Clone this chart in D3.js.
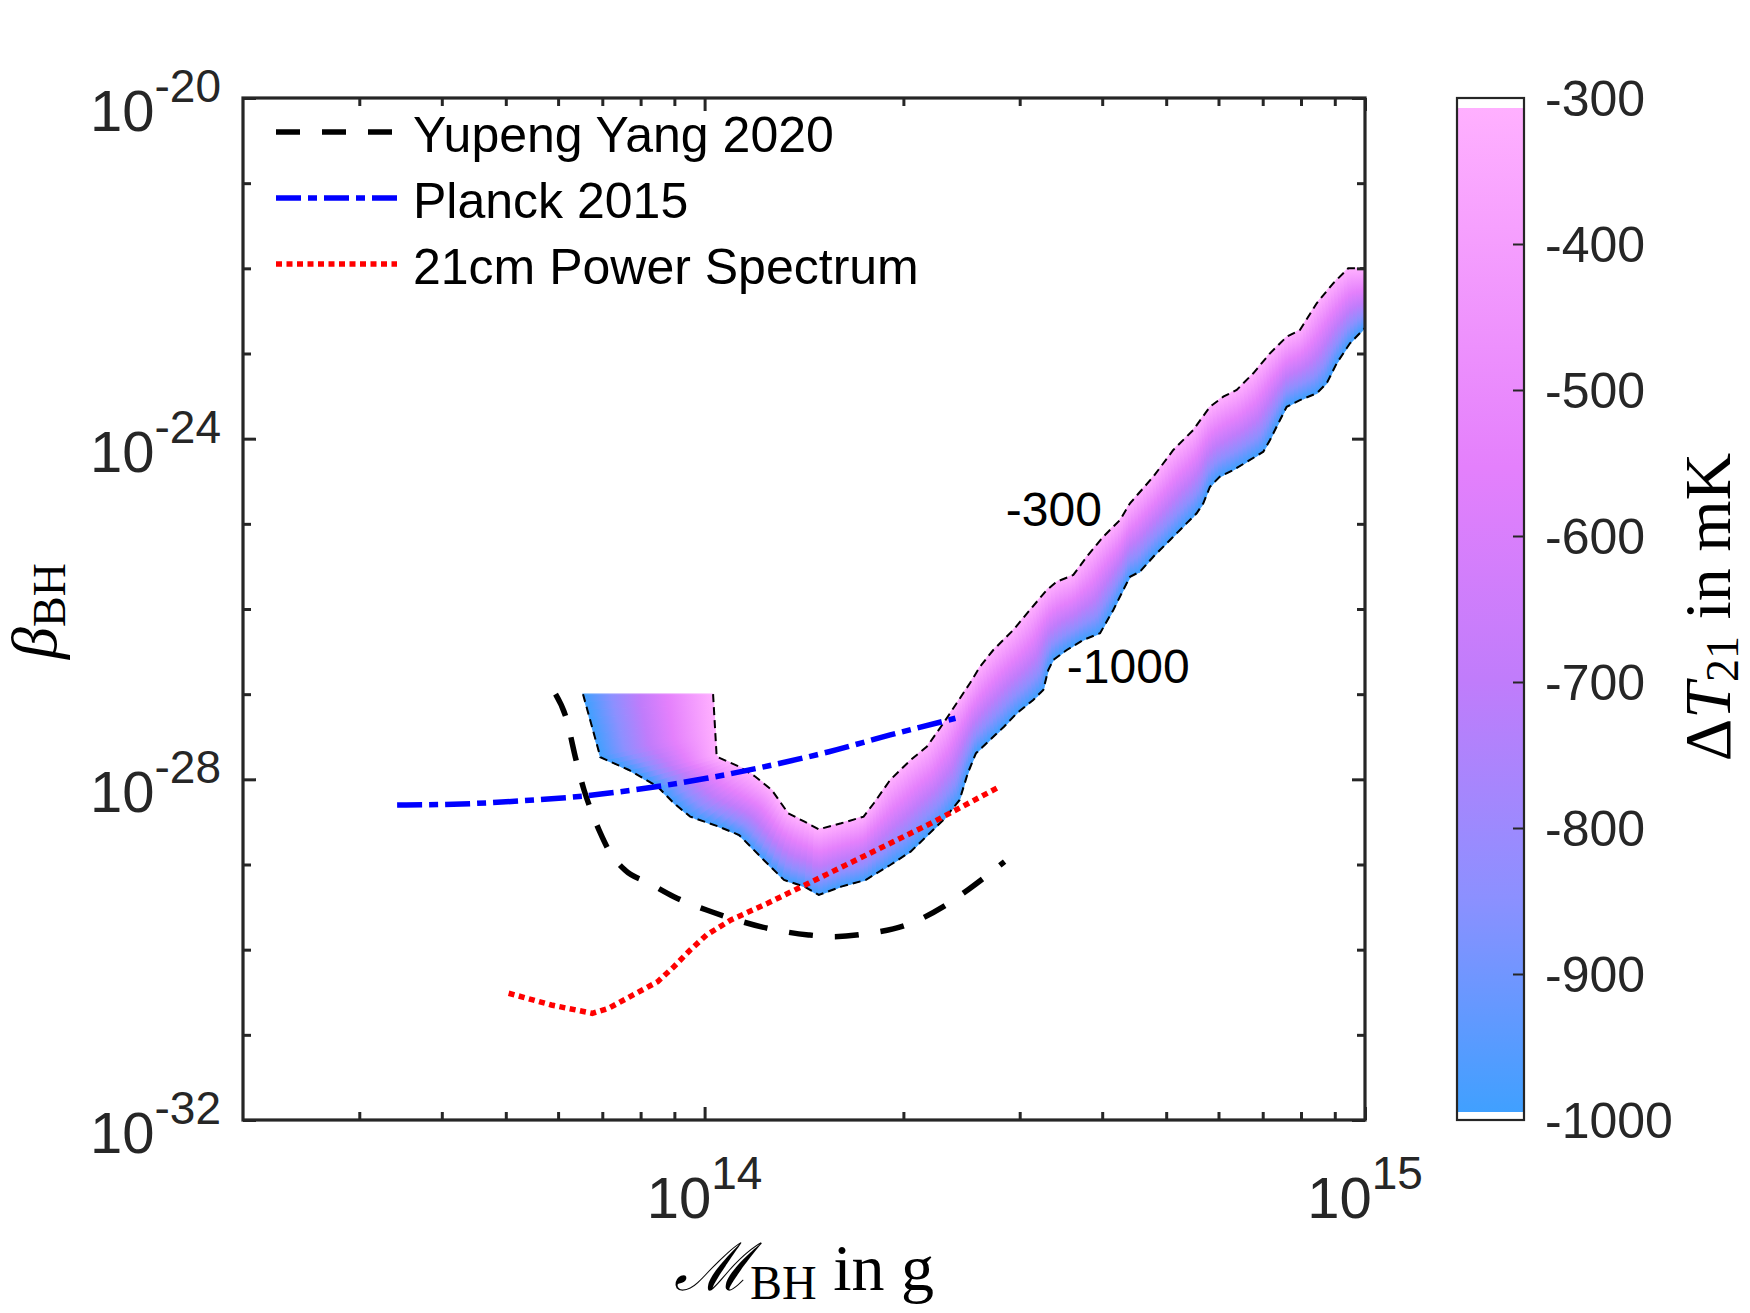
<!DOCTYPE html>
<html>
<head>
<meta charset="utf-8">
<script src="https://cdn.jsdelivr.net/npm/d3@7"></script>
<style>
  body { margin: 0; background: #fff; }
</style>
</head>
<body>
<div id="chart"></div>
<script>
// ---- data ----
// Delta T21 = -300 mK contour (inner edge of the band)
const innerMass = [1.03e14, 1.043e14, 1.128e14, 1.194e14, 1.264e14, 1.338e14, 1.417e14, 1.489e14, 1.610e14, 1.741e14,
  1.804e14, 1.910e14, 2.051e14, 2.171e14, 2.299e14, 2.408e14, 2.522e14, 2.612e14, 2.736e14, 2.934e14,
  3.109e14, 3.296e14, 3.413e14, 3.617e14, 3.790e14, 4.015e14, 4.256e14, 4.407e14, 4.780e14, 5.125e14,
  5.495e14, 5.824e14, 6.101e14, 6.393e14, 6.774e14, 7.180e14, 7.610e14, 7.97e14, 8.45e14, 8.95e14,
  9.43e14, 1e15];
const innerBeta = [1e-27, 1.845e-28, 1.409e-28, 1.074e-28, 7.5e-29, 4.0e-29, 3.18e-29, 2.59e-29, 3.05e-29, 3.65e-29,
  5.24e-29, 9.84e-29, 1.687e-28, 2.42e-28, 4.55e-28, 7.82e-28, 1.343e-27, 2.1e-27, 3.3e-27, 5.67e-27,
  9.75e-27, 1.67e-26, 2.09e-26, 2.51e-26, 4.11e-26, 7.06e-26, 1.109e-25, 1.742e-25, 3.58e-25, 7.36e-25,
  1.265e-24, 2.37e-24, 3.11e-24, 3.73e-24, 5.86e-24, 1.005e-23, 1.574e-23, 1.888e-23, 3.89e-23, 6.67e-23,
  1e-22, 1e-22];

// Delta T21 = -1000 mK contour (outer edge of the band)
const outerMass = [6.545e13, 6.954e13, 7.68e13, 8.49e13, 8.985e13, 9.51e13, 1.051e14, 1.128e14, 1.229e14, 1.319e14,
  1.417e14, 1.489e14, 1.610e14, 1.753e14, 1.910e14, 2.051e14, 2.299e14, 2.433e14, 2.503e14, 2.575e14,
  2.840e14, 2.969e14, 3.145e14, 3.257e14, 3.314e14, 3.373e14, 3.535e14, 3.745e14, 3.970e14, 4.158e14,
  4.305e14, 4.407e14, 4.563e14, 4.780e14, 5.067e14, 5.307e14, 5.560e14, 5.690e14, 5.824e14, 6.03e14,
  6.318e14, 6.696e14, 7.015e14, 7.180e14, 7.435e14, 7.610e14, 7.97e14, 8.45e14, 8.75e14, 9.06e14,
  9.49e14, 1e15];
const outerBeta = [1e-27, 1.815e-28, 1.288e-28, 8.2e-29, 5.24e-29, 3.65e-29, 2.78e-29, 2.22e-29, 1.13e-29, 6.58e-30,
  5.5e-30, 4.39e-30, 5.5e-30, 6.58e-30, 9.87e-30, 1.416e-29, 3.33e-29, 5.73e-29, 1.178e-28, 2.02e-28,
  4.15e-28, 5.97e-28, 8.55e-28, 1.12e-27, 1.92e-27, 2.52e-27, 3.3e-27, 4.33e-27, 5.19e-27, 9.75e-27,
  1.67e-26, 2.39e-26, 2.74e-26, 4.11e-26, 6.46e-26, 9.27e-26, 1.33e-25, 1.742e-25, 2.73e-25, 3.58e-25,
  4.29e-25, 5.62e-25, 7.03e-25, 9.66e-25, 1.656e-24, 2.37e-24, 2.84e-24, 3.41e-24, 4.47e-24, 7.67e-24,
  1.318e-23, 2.0e-23];

const yangMass = [5.947e13, 6.163e13, 6.388e13, 6.568e13, 6.758e13, 6.954e13, 7.155e13, 7.574e13, 8.25e13, 8.985e13,
  1.007e14, 1.096e14, 1.246e14, 1.437e14, 1.565e14, 1.779e14, 2.022e14, 2.299e14, 2.503e14, 2.846e14];
const yangBeta = [1e-27, 5.44e-28, 1.687e-28, 7.5e-29, 4.0e-29, 2.33e-29, 1.48e-29, 8.63e-30, 6.02e-30, 4.19e-30,
  2.92e-30, 2.34e-30, 1.78e-30, 1.49e-30, 1.42e-30, 1.56e-30, 1.95e-30, 3.2e-30, 5.02e-30, 1.08e-29];

const planckMass = [3.423e13, 4.285e13, 5.307e13, 6.571e13, 8.135e13, 1.007e14, 1.246e14, 1.543e14, 1.910e14, 2.398e14];
const planckBeta = [5.0e-29, 5.14e-29, 5.61e-29, 6.38e-29, 7.85e-29, 1.028e-28, 1.435e-28, 2.11e-28, 3.32e-28, 5.21e-28];

const psMass = [5.05e13, 5.86e13, 6.758e13, 7.155e13, 7.795e13, 8.49e13, 8.985e13, 9.51e13, 1.007e14, 1.096e14,
  1.246e14, 1.437e14, 1.779e14, 2.202e14, 2.786e14];
const psBeta = [3.08e-31, 2.24e-31, 1.79e-31, 2.05e-31, 2.94e-31, 4.21e-31, 6.31e-31, 9.91e-31, 1.49e-30, 2.23e-30,
  3.51e-30, 6.02e-30, 1.355e-29, 3.05e-29, 8.07e-29];

const contourLevels = ['-300', '-1000'];
const contourLabelMass = [3.38e14, 4.38e14];
const contourLabelBeta = [1.49e-25, 2.14e-27];

const legendLabels = ['Yupeng Yang 2020', 'Planck 2015', '21cm Power Spectrum'];

const xMajorTicks = [1e14, 1e15];
const xMinorTicks = [3e13, 4e13, 5e13, 6e13, 7e13, 8e13, 9e13, 2e14, 3e14, 4e14, 5e14, 6e14, 7e14, 8e14, 9e14];
const yMajorTicks = [1e-32, 1e-28, 1e-24, 1e-20];
const yMinorTicks = [1e-31, 1e-30, 1e-29, 1e-27, 1e-26, 1e-25, 1e-23, 1e-22, 1e-21];

const cbTicks = [-300, -400, -500, -600, -700, -800, -900, -1000];
const cbStopValues = [-1000, -850, -700, -550, -300];
const cbStopColors = ['#40a0ff', '#8c90ff', '#c07cfb', '#e480fc', '#ffb0ff'];

// ---- layout ----
const W = 1750, H = 1313;
const plot = { left: 243, right: 1365, top: 98, bottom: 1120 };
const cbBox = { left: 1457, right: 1524, top: 98, bottom: 1120, fillTop: 108, fillBottom: 1112 };
const axisColor = '#262626';
const sans = 'Liberation Sans, Arial, Helvetica, sans-serif';
const serif = 'Liberation Serif, DejaVu Serif, Times New Roman, serif';

const svg = d3.select('#chart').append('svg')
  .attr('width', W).attr('height', H)
  .style('display', 'block');

const x = d3.scaleLog().domain([2e13, 1e15]).range([plot.left, plot.right]);
const y = d3.scaleLog().domain([1e-32, 1e-20]).range([plot.bottom, plot.top]);
const cbScale = d3.scaleLinear().domain([-1000, -300]).range([cbBox.bottom, cbBox.top]);
const colorOf = d3.scaleLinear().domain(cbStopValues).range(cbStopColors).interpolate(d3.interpolateRgb);

const defs = svg.append('defs');
defs.append('clipPath').attr('id', 'plotClip')
  .append('rect')
  .attr('x', plot.left).attr('y', plot.top)
  .attr('width', plot.right - plot.left).attr('height', plot.bottom - plot.top);

const zip = (ms, bs) => ms.map((m, i) => ({ m, b: bs[i] }));
const line = d3.line().x(d => x(d.m)).y(d => y(d.b));

// ---- filled band between the two contours ----
function resample(pts, n) {
  const cum = [0];
  for (let i = 1; i < pts.length; i++) {
    cum.push(cum[i - 1] + Math.hypot(pts[i][0] - pts[i - 1][0], pts[i][1] - pts[i - 1][1]));
  }
  const total = cum[cum.length - 1];
  const out = [];
  let j = 0;
  for (let k = 0; k <= n; k++) {
    const t = total * k / n;
    while (j < pts.length - 2 && cum[j + 1] < t) j++;
    const seg = (cum[j + 1] - cum[j]) || 1;
    const f = Math.min(1, Math.max(0, (t - cum[j]) / seg));
    out.push([pts[j][0] + f * (pts[j + 1][0] - pts[j][0]), pts[j][1] + f * (pts[j + 1][1] - pts[j][1])]);
  }
  return out;
}

const innerPx = innerMass.map((m, i) => [x(m), y(innerBeta[i])]);
const outerPx = outerMass.map((m, i) => [x(m), y(outerBeta[i])]);
const iv = d3.minIndex(innerBeta);
const ov = d3.minIndex(outerBeta);
const nLeft = 40, nRight = 170;
const innerS = resample(innerPx.slice(0, iv + 1), nLeft).concat(resample(innerPx.slice(iv), nRight).slice(1));
const outerS = resample(outerPx.slice(0, ov + 1), nLeft).concat(resample(outerPx.slice(ov), nRight).slice(1));

const mid = (a, b) => [(a[0] + b[0]) / 2, (a[1] + b[1]) / 2];
const quads = d3.range(innerS.length - 1).map(i => ({
  id: 'bandGrad' + i,
  pts: [innerS[i], innerS[i + 1], outerS[i + 1], outerS[i]],
  from: mid(innerS[i], innerS[i + 1]),
  to: mid(outerS[i], outerS[i + 1])
}));
const bandStops = cbStopValues.map(v => ({ offset: (-300 - v) / 700, color: colorOf(v) }))
  .sort((a, b) => a.offset - b.offset);

defs.selectAll('linearGradient.band')
  .data(quads)
  .join('linearGradient')
  .attr('class', 'band')
  .attr('id', d => d.id)
  .attr('gradientUnits', 'userSpaceOnUse')
  .attr('x1', d => d.from[0]).attr('y1', d => d.from[1])
  .attr('x2', d => d.to[0]).attr('y2', d => d.to[1])
  .selectAll('stop')
  .data(bandStops)
  .join('stop')
  .attr('offset', d => d.offset)
  .attr('stop-color', d => d.color);

const gPlot = svg.append('g').attr('clip-path', 'url(#plotClip)');

gPlot.append('g')
  .selectAll('path')
  .data(quads)
  .join('path')
  .attr('d', d => 'M' + d.pts.map(p => p.join(',')).join('L') + 'Z')
  .attr('fill', d => `url(#${d.id})`)
  .attr('stroke', d => `url(#${d.id})`)
  .attr('stroke-width', 1.2);

// contour edges
[zip(innerMass, innerBeta), zip(outerMass, outerBeta)].forEach(c => {
  gPlot.append('path')
    .attr('d', line(c))
    .attr('fill', 'none')
    .attr('stroke', '#000')
    .attr('stroke-width', 2)
    .attr('stroke-dasharray', '8 5');
});

// ---- constraint curves ----
const curveStyles = [
  { stroke: '#000000', dash: '24 22', curve: d3.curveMonotoneX },
  { stroke: '#0000ff', dash: '25 7 9 7', curve: d3.curveMonotoneX },
  { stroke: '#ff0000', dash: '6 4.5', curve: d3.curveLinear }
];
const curves = [zip(yangMass, yangBeta), zip(planckMass, planckBeta), zip(psMass, psBeta)];

curves.forEach((c, i) => {
  gPlot.append('path')
    .attr('d', line.curve(curveStyles[i].curve)(c))
    .attr('fill', 'none')
    .attr('stroke', curveStyles[i].stroke)
    .attr('stroke-width', 5.5)
    .attr('stroke-dasharray', curveStyles[i].dash);
});
line.curve(d3.curveLinear);

// contour labels
svg.append('g')
  .selectAll('text')
  .data(contourLevels)
  .join('text')
  .attr('x', (d, i) => x(contourLabelMass[i]))
  .attr('y', (d, i) => y(contourLabelBeta[i]))
  .attr('dy', '0.36em')
  .attr('text-anchor', 'middle')
  .attr('font-family', sans)
  .attr('font-size', 48)
  .attr('fill', '#000')
  .text(d => d);

// ---- axes: inward ticks on all four sides ----
function tickRow(axisFn, scale, values, size, transform) {
  svg.append('g')
    .attr('transform', transform)
    .call(axisFn(scale).tickValues(values).tickSize(-size).tickFormat(''))
    .call(g => g.select('.domain').remove())
    .call(g => g.selectAll('line').attr('stroke', axisColor).attr('stroke-width', 3));
}
const majorLen = 13, minorLen = 8;
tickRow(d3.axisBottom, x, xMajorTicks, majorLen, `translate(0,${plot.bottom})`);
tickRow(d3.axisBottom, x, xMinorTicks, minorLen, `translate(0,${plot.bottom})`);
tickRow(d3.axisTop, x, xMajorTicks, majorLen, `translate(0,${plot.top})`);
tickRow(d3.axisTop, x, xMinorTicks, minorLen, `translate(0,${plot.top})`);
tickRow(d3.axisLeft, y, yMajorTicks, majorLen, `translate(${plot.left},0)`);
tickRow(d3.axisLeft, y, yMinorTicks, minorLen, `translate(${plot.left},0)`);
tickRow(d3.axisRight, y, yMajorTicks, majorLen, `translate(${plot.right},0)`);
tickRow(d3.axisRight, y, yMinorTicks, minorLen, `translate(${plot.right},0)`);

svg.append('rect')
  .attr('x', plot.left).attr('y', plot.top)
  .attr('width', plot.right - plot.left).attr('height', plot.bottom - plot.top)
  .attr('fill', 'none')
  .attr('stroke', axisColor)
  .attr('stroke-width', 3.2);

// power-of-ten tick labels
function powerLabel(sel, exp) {
  sel.append('tspan').attr('font-size', 58).text('10');
  sel.append('tspan').attr('font-size', 46).attr('dy', -29).text(exp);
}

svg.append('g')
  .selectAll('text')
  .data(xMajorTicks)
  .join('text')
  .attr('x', d => x(d))
  .attr('y', plot.bottom + 98)
  .attr('text-anchor', 'middle')
  .attr('font-family', sans)
  .attr('fill', axisColor)
  .each(function (d) { powerLabel(d3.select(this), String(Math.round(Math.log10(d)))); });

svg.append('g')
  .selectAll('text')
  .data(yMajorTicks)
  .join('text')
  .attr('x', plot.left - 22)
  .attr('y', d => y(d) + 33)
  .attr('text-anchor', 'end')
  .attr('font-family', sans)
  .attr('fill', axisColor)
  .each(function (d) { powerLabel(d3.select(this), String(Math.round(Math.log10(d)))); });

// axis titles
const xTitle = svg.append('text')
  .attr('x', 804).attr('y', 1290)
  .attr('text-anchor', 'middle')
  .attr('font-family', serif)
  .attr('fill', '#000');
xTitle.append('tspan').attr('font-size', 66).attr('font-style', 'italic')
  .attr('font-family', 'DejaVu Serif, Liberation Serif, serif').text('\u2133');
xTitle.append('tspan').attr('font-size', 48).attr('dy', 9).text('BH');
xTitle.append('tspan').attr('font-size', 66).attr('dy', -9).text(' in g');

const yTitle = svg.append('text')
  .attr('transform', 'translate(56,611) rotate(-90)')
  .attr('text-anchor', 'middle')
  .attr('font-family', serif)
  .attr('fill', '#000');
yTitle.append('tspan').attr('font-size', 64).attr('font-style', 'italic').text('\u03b2');
yTitle.append('tspan').attr('font-size', 46).attr('dy', 9).text('BH');

// ---- legend ----
const legend = svg.append('g');
const legendRows = legendLabels.map((label, i) => ({ label, style: curveStyles[i], y: 132 + i * 66 }));
legend.selectAll('line')
  .data(legendRows)
  .join('line')
  .attr('x1', 276).attr('x2', 397)
  .attr('y1', d => d.y).attr('y2', d => d.y)
  .attr('stroke', d => d.style.stroke)
  .attr('stroke-width', 5.5)
  .attr('stroke-dasharray', d => d.style.dash);
legend.selectAll('text')
  .data(legendRows)
  .join('text')
  .attr('x', 413)
  .attr('y', d => d.y + 20)
  .attr('font-family', sans)
  .attr('font-size', 50)
  .attr('fill', '#000')
  .text(d => d.label);

// ---- colorbar ----
const cbGrad = defs.append('linearGradient')
  .attr('id', 'cbGrad')
  .attr('gradientUnits', 'userSpaceOnUse')
  .attr('x1', 0).attr('x2', 0)
  .attr('y1', cbBox.fillBottom).attr('y2', cbBox.fillTop);
cbGrad.selectAll('stop')
  .data(cbStopValues)
  .join('stop')
  .attr('offset', d => (d + 1000) / 700)
  .attr('stop-color', d => colorOf(d));

svg.append('rect')
  .attr('x', cbBox.left).attr('y', cbBox.top)
  .attr('width', cbBox.right - cbBox.left).attr('height', cbBox.bottom - cbBox.top)
  .attr('fill', '#fff');
svg.append('rect')
  .attr('x', cbBox.left).attr('y', cbBox.fillTop)
  .attr('width', cbBox.right - cbBox.left).attr('height', cbBox.fillBottom - cbBox.fillTop)
  .attr('fill', 'url(#cbGrad)');

svg.append('g')
  .attr('transform', `translate(${cbBox.right},0)`)
  .call(d3.axisRight(cbScale).tickValues(cbTicks.slice(1, -1)).tickSize(-11).tickFormat(''))
  .call(g => g.select('.domain').remove())
  .call(g => g.selectAll('line').attr('stroke', axisColor).attr('stroke-width', 2));

svg.append('rect')
  .attr('x', cbBox.left).attr('y', cbBox.top)
  .attr('width', cbBox.right - cbBox.left).attr('height', cbBox.bottom - cbBox.top)
  .attr('fill', 'none')
  .attr('stroke', axisColor)
  .attr('stroke-width', 2.2);

svg.append('g')
  .selectAll('text')
  .data(cbTicks)
  .join('text')
  .attr('x', 1545)
  .attr('y', d => cbScale(d))
  .attr('dy', '0.36em')
  .attr('font-family', sans)
  .attr('font-size', 50)
  .attr('fill', axisColor)
  .text(d => d);

const cbTitle = svg.append('text')
  .attr('transform', 'translate(1730,607) rotate(-90)')
  .attr('text-anchor', 'middle')
  .attr('font-family', serif)
  .attr('fill', '#000');
cbTitle.append('tspan').attr('font-size', 66).text('\u0394');
cbTitle.append('tspan').attr('font-size', 66).attr('font-style', 'italic').text('T');
cbTitle.append('tspan').attr('font-size', 46).attr('dy', 8).text('21');
cbTitle.append('tspan').attr('font-size', 66).attr('dy', -8).text(' in mK');
</script>
</body>
</html>
